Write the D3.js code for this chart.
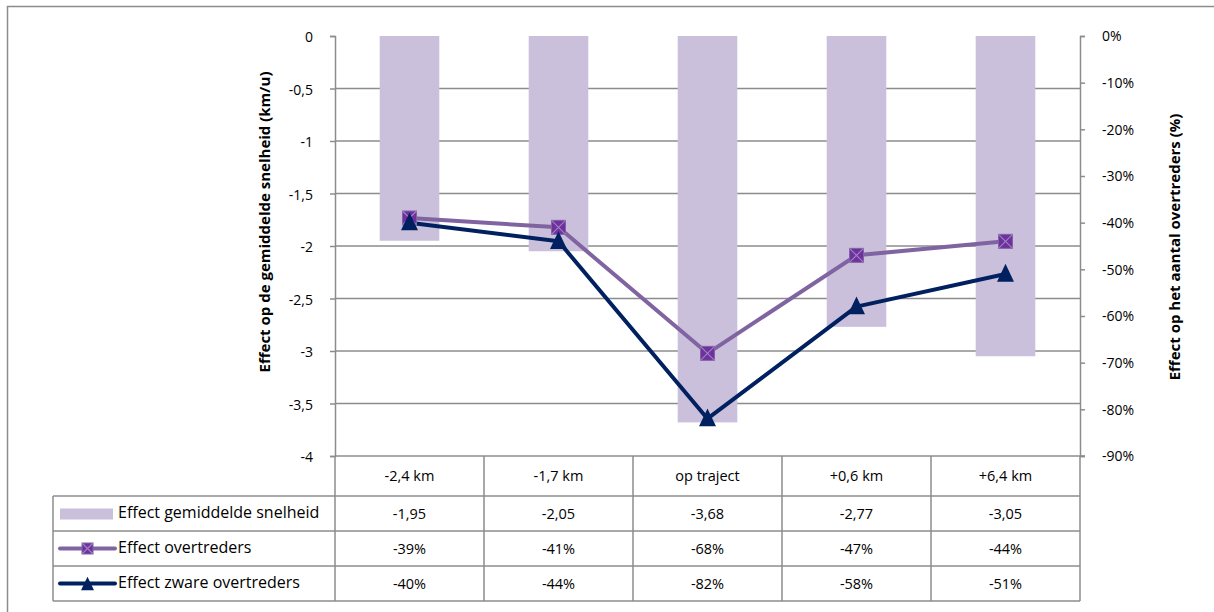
<!DOCTYPE html>
<html>
<head>
<meta charset="utf-8">
<script src="https://cdn.jsdelivr.net/npm/d3@7"></script>
<style>
  body { margin: 0; background: #fff; }
  text { font-family: "Open Sans", Lato, sans-serif; fill: #000; }
</style>
</head>
<body>
<script>
// Chart data
const categories = ["-2,4 km", "-1,7 km", "op traject", "+0,6 km", "+6,4 km"];
const speedEffect = [-1.95, -2.05, -3.68, -2.77, -3.05];
const speedLabels = ["-1,95", "-2,05", "-3,68", "-2,77", "-3,05"];
const offenders = [-39, -41, -68, -47, -44];
const heavyOffenders = [-40, -44, -82, -58, -51];
const leftTicks = [0, -0.5, -1, -1.5, -2, -2.5, -3, -3.5, -4];
const rightTicks = [0, -10, -20, -30, -40, -50, -60, -70, -80, -90];
const seriesNames = ["Effect gemiddelde snelheid", "Effect overtreders", "Effect zware overtreders"];

const W = 1214, H = 612;
const plot = { left: 335, right: 1080, top: 36, bottom: 456 };
const grid = "#8c8c8c";
const barColor = "#cbc0dc";
const purple = "#8064a2";
const purpleMarker = "#7030a0";
const navy = "#002060";

const svg = d3.select("body").append("svg")
    .attr("width", W)
    .attr("height", H);

// outer frame
svg.append("rect")
    .attr("x", 7.5).attr("y", 6.5)
    .attr("width", W + 10).attr("height", H + 10)
    .attr("fill", "none").attr("stroke", grid).attr("stroke-width", 1.5);

// scales
const x = d3.scaleBand()
    .domain(categories)
    .range([plot.left, plot.right])
    .paddingInner(0).paddingOuter(0);

const yL = d3.scaleLinear().domain([0, -4]).range([plot.top, plot.bottom]);
const yR = d3.scaleLinear().domain([0, -90]).range([plot.top, plot.bottom]);

const fmtComma = d => String(d).replace(".", ",");

// gridlines
svg.append("g")
    .selectAll("line")
    .data(leftTicks.filter(d => d !== 0 && d !== -4))
    .enter().append("line")
    .attr("x1", plot.left).attr("x2", plot.right)
    .attr("y1", d => yL(d)).attr("y2", d => yL(d))
    .attr("stroke", grid).attr("stroke-width", 1.5);

// bars
const barW = x.bandwidth() * 0.4;
svg.append("g")
    .selectAll("rect")
    .data(categories)
    .enter().append("rect")
    .attr("x", d => x(d) + (x.bandwidth() - barW) / 2)
    .attr("y", yL(0))
    .attr("width", barW)
    .attr("height", (d, i) => yL(speedEffect[i]) - yL(0))
    .attr("fill", barColor);

// left axis
const leftAxis = svg.append("g")
    .attr("transform", `translate(${plot.left},0)`)
    .call(d3.axisLeft(yL).tickValues(leftTicks).tickSize(5).tickPadding(17).tickFormat(fmtComma));
leftAxis.select(".domain").attr("stroke", grid).attr("stroke-width", 1.5);
leftAxis.selectAll(".tick line").attr("stroke", grid).attr("stroke-width", 1.5);
leftAxis.selectAll(".tick text").style("font-size", "14px").attr("dy", "0.4em")
    .style("font-family", "'Open Sans', sans-serif");

// right axis
const rightAxis = svg.append("g")
    .attr("transform", `translate(${plot.right},0)`)
    .call(d3.axisRight(yR).tickValues(rightTicks).tickSize(5).tickPadding(17).tickFormat(d => d + "%"));
rightAxis.select(".domain").attr("stroke", grid).attr("stroke-width", 1.5);
rightAxis.selectAll(".tick line").attr("stroke", grid).attr("stroke-width", 1.5);
rightAxis.selectAll(".tick text").style("font-size", "14px").attr("dy", "0.35em")
    .style("font-family", "'Open Sans', sans-serif");

// axis titles
svg.append("text")
    .attr("transform", "translate(270,222) rotate(-90)")
    .attr("text-anchor", "middle")
    .style("font-size", "15px").style("font-weight", "bold")
    .text("Effect op de gemiddelde snelheid (km/u)");

svg.append("text")
    .attr("transform", "translate(1180,247) rotate(-90)")
    .attr("text-anchor", "middle")
    .style("font-size", "15px").style("font-weight", "bold")
    .text("Effect op het aantal overtreders (%)");

// lines
const cx = d => x(d) + x.bandwidth() / 2;
const lineOff = d3.line().x((d, i) => cx(categories[i])).y(d => yR(d));

svg.append("path")
    .datum(offenders)
    .attr("d", lineOff)
    .attr("fill", "none").attr("stroke", purple).attr("stroke-width", 4)
    .attr("stroke-linejoin", "round");

svg.append("path")
    .datum(heavyOffenders)
    .attr("d", lineOff)
    .attr("fill", "none").attr("stroke", navy).attr("stroke-width", 4)
    .attr("stroke-linejoin", "round");

function squareMarker(g, px, py, s) {
    g.append("rect")
        .attr("x", px - s / 2).attr("y", py - s / 2)
        .attr("width", s).attr("height", s)
        .attr("fill", purpleMarker).attr("stroke", purple).attr("stroke-width", 1);
    g.append("path")
        .attr("d", `M${px - s / 2},${py - s / 2}L${px + s / 2},${py + s / 2}M${px + s / 2},${py - s / 2}L${px - s / 2},${py + s / 2}`)
        .attr("stroke", "#9a84bd").attr("stroke-width", 1.2);
}

function triMarker(g, px, py, s) {
    g.append("path")
        .attr("d", `M${px},${py - s * 0.6}L${px + s / 2},${py + s * 0.45}L${px - s / 2},${py + s * 0.45}Z`)
        .attr("fill", navy);
}

const markers = svg.append("g");
offenders.forEach((v, i) => squareMarker(markers, cx(categories[i]), yR(v), 14));
heavyOffenders.forEach((v, i) => triMarker(markers, cx(categories[i]), yR(v), 17));

// data table
const rowY = [456, 496, 531, 566, 601];
const tableLeft = 53;
const tbl = svg.append("g").attr("stroke", grid).attr("stroke-width", 1.5).attr("fill", "none");

// horizontal lines
tbl.append("line").attr("x1", plot.left).attr("x2", plot.right + 5).attr("y1", rowY[0]).attr("y2", rowY[0]);
rowY.slice(1).forEach(y => {
    tbl.append("line").attr("x1", tableLeft).attr("x2", plot.right).attr("y1", y).attr("y2", y);
});
// vertical lines
tbl.append("line").attr("x1", tableLeft).attr("x2", tableLeft).attr("y1", rowY[1]).attr("y2", rowY[4]);
categories.forEach(c => {
    tbl.append("line").attr("x1", x(c)).attr("x2", x(c)).attr("y1", rowY[0]).attr("y2", rowY[4]);
});
tbl.append("line").attr("x1", plot.right).attr("x2", plot.right).attr("y1", rowY[0]).attr("y2", rowY[4]);

// header labels
svg.append("g").selectAll("text")
    .data(categories)
    .enter().append("text")
    .attr("x", d => cx(d))
    .attr("y", (rowY[0] + rowY[1]) / 2)
    .attr("dy", "0.35em")
    .attr("text-anchor", "middle")
    .style("font-size", "14.5px")
    .text(d => d);

const rowValues = [speedLabels, offenders.map(d => d + "%"), heavyOffenders.map(d => d + "%")];
rowValues.forEach((vals, r) => {
    const ym = (rowY[r + 1] + rowY[r + 2]) / 2;
    svg.append("g").selectAll("text")
        .data(vals)
        .enter().append("text")
        .attr("x", (d, i) => cx(categories[i]))
        .attr("y", ym)
        .attr("dy", "0.4em")
        .attr("text-anchor", "middle")
        .style("font-size", "14.5px")
        .text(d => d);

    // legend names
    svg.append("text")
        .attr("x", 118)
        .attr("y", ym)
        .attr("dy", "0.3em")
        .style("font-size", "16px")
        .text(seriesNames[r]);
});

// legend keys
const k1 = (rowY[1] + rowY[2]) / 2;
svg.append("rect")
    .attr("x", 60).attr("y", k1 - 5).attr("width", 53).attr("height", 11)
    .attr("fill", barColor);

const k2 = (rowY[2] + rowY[3]) / 2;
svg.append("line").attr("x1", 60).attr("x2", 115).attr("y1", k2).attr("y2", k2)
    .attr("stroke", purple).attr("stroke-width", 4).attr("stroke-linecap", "round");
squareMarker(svg, 87.5, k2, 11);

const k3 = (rowY[3] + rowY[4]) / 2;
svg.append("line").attr("x1", 60).attr("x2", 115).attr("y1", k3).attr("y2", k3)
    .attr("stroke", navy).attr("stroke-width", 4).attr("stroke-linecap", "round");
triMarker(svg, 87.5, k3 + 1, 13);
</script>
</body>
</html>
